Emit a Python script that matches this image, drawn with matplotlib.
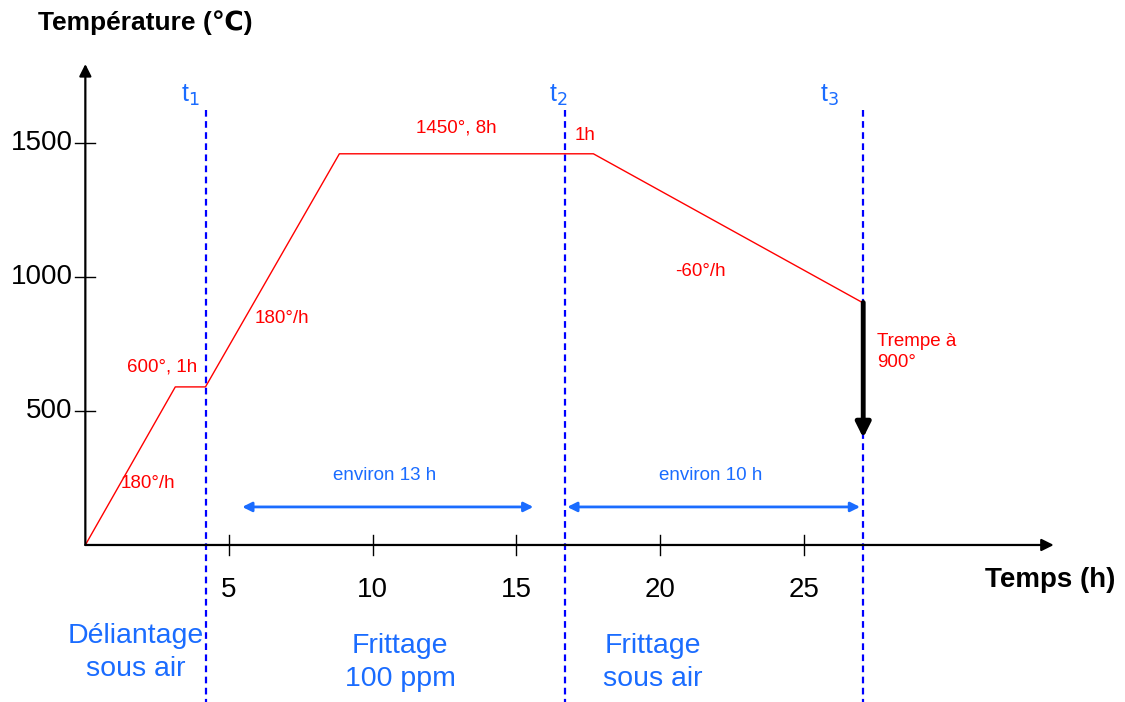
import matplotlib.pyplot as plt

plt.rcParams['font.family'] = ['Liberation Sans', 'DejaVu Sans']

# heating cycle: time (h) and temperature (C)
cycle_t = [0, 3.13, 4.18, 8.84, 17.68, 27.04]
cycle_T = [0, 590, 590, 1460, 1460, 905]

# quench
quench_t = 27.07
quench_from = 905
quench_to = 400

# phase boundaries
bound_t = [4.2, 16.7, 27.07]
bound_names = ["1", "2", "3"]
bound_label_x = [3.65, 16.45, 25.9]

xticks = [5, 10, 15, 20, 25]
yticks = [500, 1000, 1500]

# durations shown by the blue arrows
spans = [(5.46, 15.59), (16.77, 26.96)]
span_labels = ["environ 13 h", "environ 10 h"]

phase_x = [1.74, 10.96, 19.76]
phase_y = [-403, -440, -440]
phase_labels = ["Déliantage\nsous air", "Frittage\n100 ppm", "Frittage\nsous air"]

red = "#ff0000"
lblue = "#1a6cff"
dblue = "#0000ff"

fig = plt.figure(figsize=(11.25, 7.02), dpi=100)
ax = fig.add_axes([0, 0, 1, 1])
ax.set_xlim(-2.97, 36.18)
ax.set_ylim(-586, 2034)
ax.axis('off')

# axes drawn as arrows
ax.annotate('', xy=(0, 1795), xytext=(0, 0),
            arrowprops=dict(arrowstyle='-|>', lw=1.6, color='black', mutation_scale=18, shrinkA=0, shrinkB=0))
ax.annotate('', xy=(33.7, 0), xytext=(0, 0),
            arrowprops=dict(arrowstyle='-|>', lw=1.6, color='black', mutation_scale=18, shrinkA=0, shrinkB=0))

for v in yticks:
    ax.plot([-0.35, 0.35], [v, v], color='black', lw=1)
    ax.text(-0.45, v, str(v), ha='right', va='center', fontsize=20)
for v in xticks:
    ax.plot([v, v], [-37, 37], color='black', lw=1)
    ax.text(v, -168, str(v), ha='center', va='center', fontsize=20)

ax.text(-1.65, 1951, "Température (℃)", ha='left', va='center', fontsize=19, fontweight='bold')
ax.text(35.83, -131, "Temps (h)", ha='right', va='center', fontsize=20, fontweight='bold')

# boundaries
for t, n, lx in zip(bound_t, bound_names, bound_label_x):
    ax.plot([t, t], [1625, -586], color=dblue, lw=1.6, dashes=(3, 2))
    ax.text(lx, 1679, "t$_{" + n + "}$", color=lblue, fontsize=18, ha='center', va='center')

# temperature cycle
ax.plot(cycle_t, cycle_T, color=red, lw=1)

ax.annotate('', xy=(quench_t, quench_to), xytext=(quench_t, quench_from),
            arrowprops=dict(arrowstyle='-|>', lw=3.5, color='black', mutation_scale=22, shrinkA=0, shrinkB=0))

ax.text(2.68, 664, "600°, 1h", color=red, fontsize=13.5, ha='center', va='center')
ax.text(2.19, 231, "180°/h", color=red, fontsize=13.5, ha='center', va='center')
ax.text(6.85, 847, "180°/h", color=red, fontsize=13.5, ha='center', va='center')
ax.text(12.9, 1556, "1450°, 8h", color=red, fontsize=13.5, ha='center', va='center')
ax.text(17.4, 1530, "1h", color=red, fontsize=13.5, ha='center', va='center')
ax.text(21.4, 1019, "-60°/h", color=red, fontsize=13.5, ha='center', va='center')
ax.text(27.55, 720, "Trempe à\n900°", color=red, fontsize=13.5, ha='left', va='center', linespacing=1.3)

for (a, b), lab in zip(spans, span_labels):
    ax.annotate('', xy=(a, 142), xytext=(b, 142),
                arrowprops=dict(arrowstyle='<|-|>', lw=2, color=lblue, mutation_scale=14, shrinkA=0, shrinkB=0))
    ax.text((a + b) / 2 - 0.1, 261, lab, color=lblue, fontsize=13.5, ha='center', va='center')

for x, y, lab in zip(phase_x, phase_y, phase_labels):
    ax.text(x, y, lab, color=lblue, fontsize=20.5, ha='center', va='center', linespacing=1.35)

fig.savefig("out.png", dpi=100)
